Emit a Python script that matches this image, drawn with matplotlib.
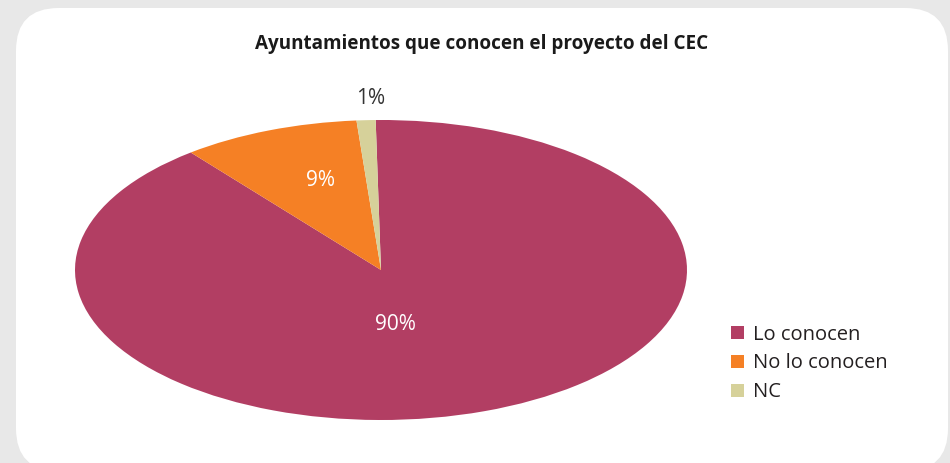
import matplotlib
matplotlib.use("Agg")
import matplotlib.pyplot as plt
from matplotlib.patches import FancyBboxPatch, Patch

categories = ["Lo conocen", "No lo conocen", "NC"]
values = [89.6, 9.4, 1.0]
colors = ["#B23E63", "#F58025", "#D6D19A"]
title = "Ayuntamientos que conocen el proyecto del CEC"

plt.rcParams['font.family'] = ['Open Sans', 'DejaVu Sans']

W, H = 950, 463
fig = plt.figure(figsize=(W / 100, H / 100), dpi=100)
fig.patch.set_facecolor("#E8E8E8")

# white rounded panel
panel = FancyBboxPatch((16 / W, -8 / H), (948 - 16) / W, (463 - 8 + 8) / H,
                       boxstyle="round,pad=0,rounding_size=0.045",
                       transform=fig.transFigure, facecolor="white",
                       edgecolor="none", mutation_aspect=W / H, zorder=-10)
fig.patches.append(panel)

cx, cy, rx, ry = 381, 463 - 270, 306, 150
ax = fig.add_axes([(cx - rx) / W, (cy - ry) / H, 2 * rx / W, 2 * ry / H])
ax.set_zorder(1)
wedges, texts, autotexts = ax.pie(values, colors=colors, startangle=91,
                                  counterclock=False, autopct='%.0f%%',
                                  radius=1.0, wedgeprops=dict(linewidth=0))
ax.set_aspect('auto')
ax.set_xlim(-1, 1)
ax.set_ylim(-1, 1)
ax.axis('off')

label_pos = [(0.046, -0.36), (-0.198, 0.6), (-0.033, 1.14)]
label_col = ["white", "white", "#333333"]
for t, p, c in zip(autotexts, label_pos, label_col):
    t.set_position(p)
    t.set_color(c)
    t.set_fontsize(15)
    t.set_clip_on(False)

fig.text(482 / W, 1 - 44 / H, title, ha='center', va='center',
         fontsize=13.6, fontweight='bold', color='#1a1a1a')

handles = [Patch(facecolor=c, edgecolor='none') for c in colors]
fig.legend(handles, categories, loc='upper left',
           bbox_to_anchor=(713 / W, 1 - 306.5 / H), frameon=False,
           fontsize=14.5, handlelength=0.65, handleheight=0.65,
           handletextpad=0.45, labelspacing=0.44, labelcolor='#231f20')

fig.savefig("out.png", dpi=100, facecolor=fig.get_facecolor())
